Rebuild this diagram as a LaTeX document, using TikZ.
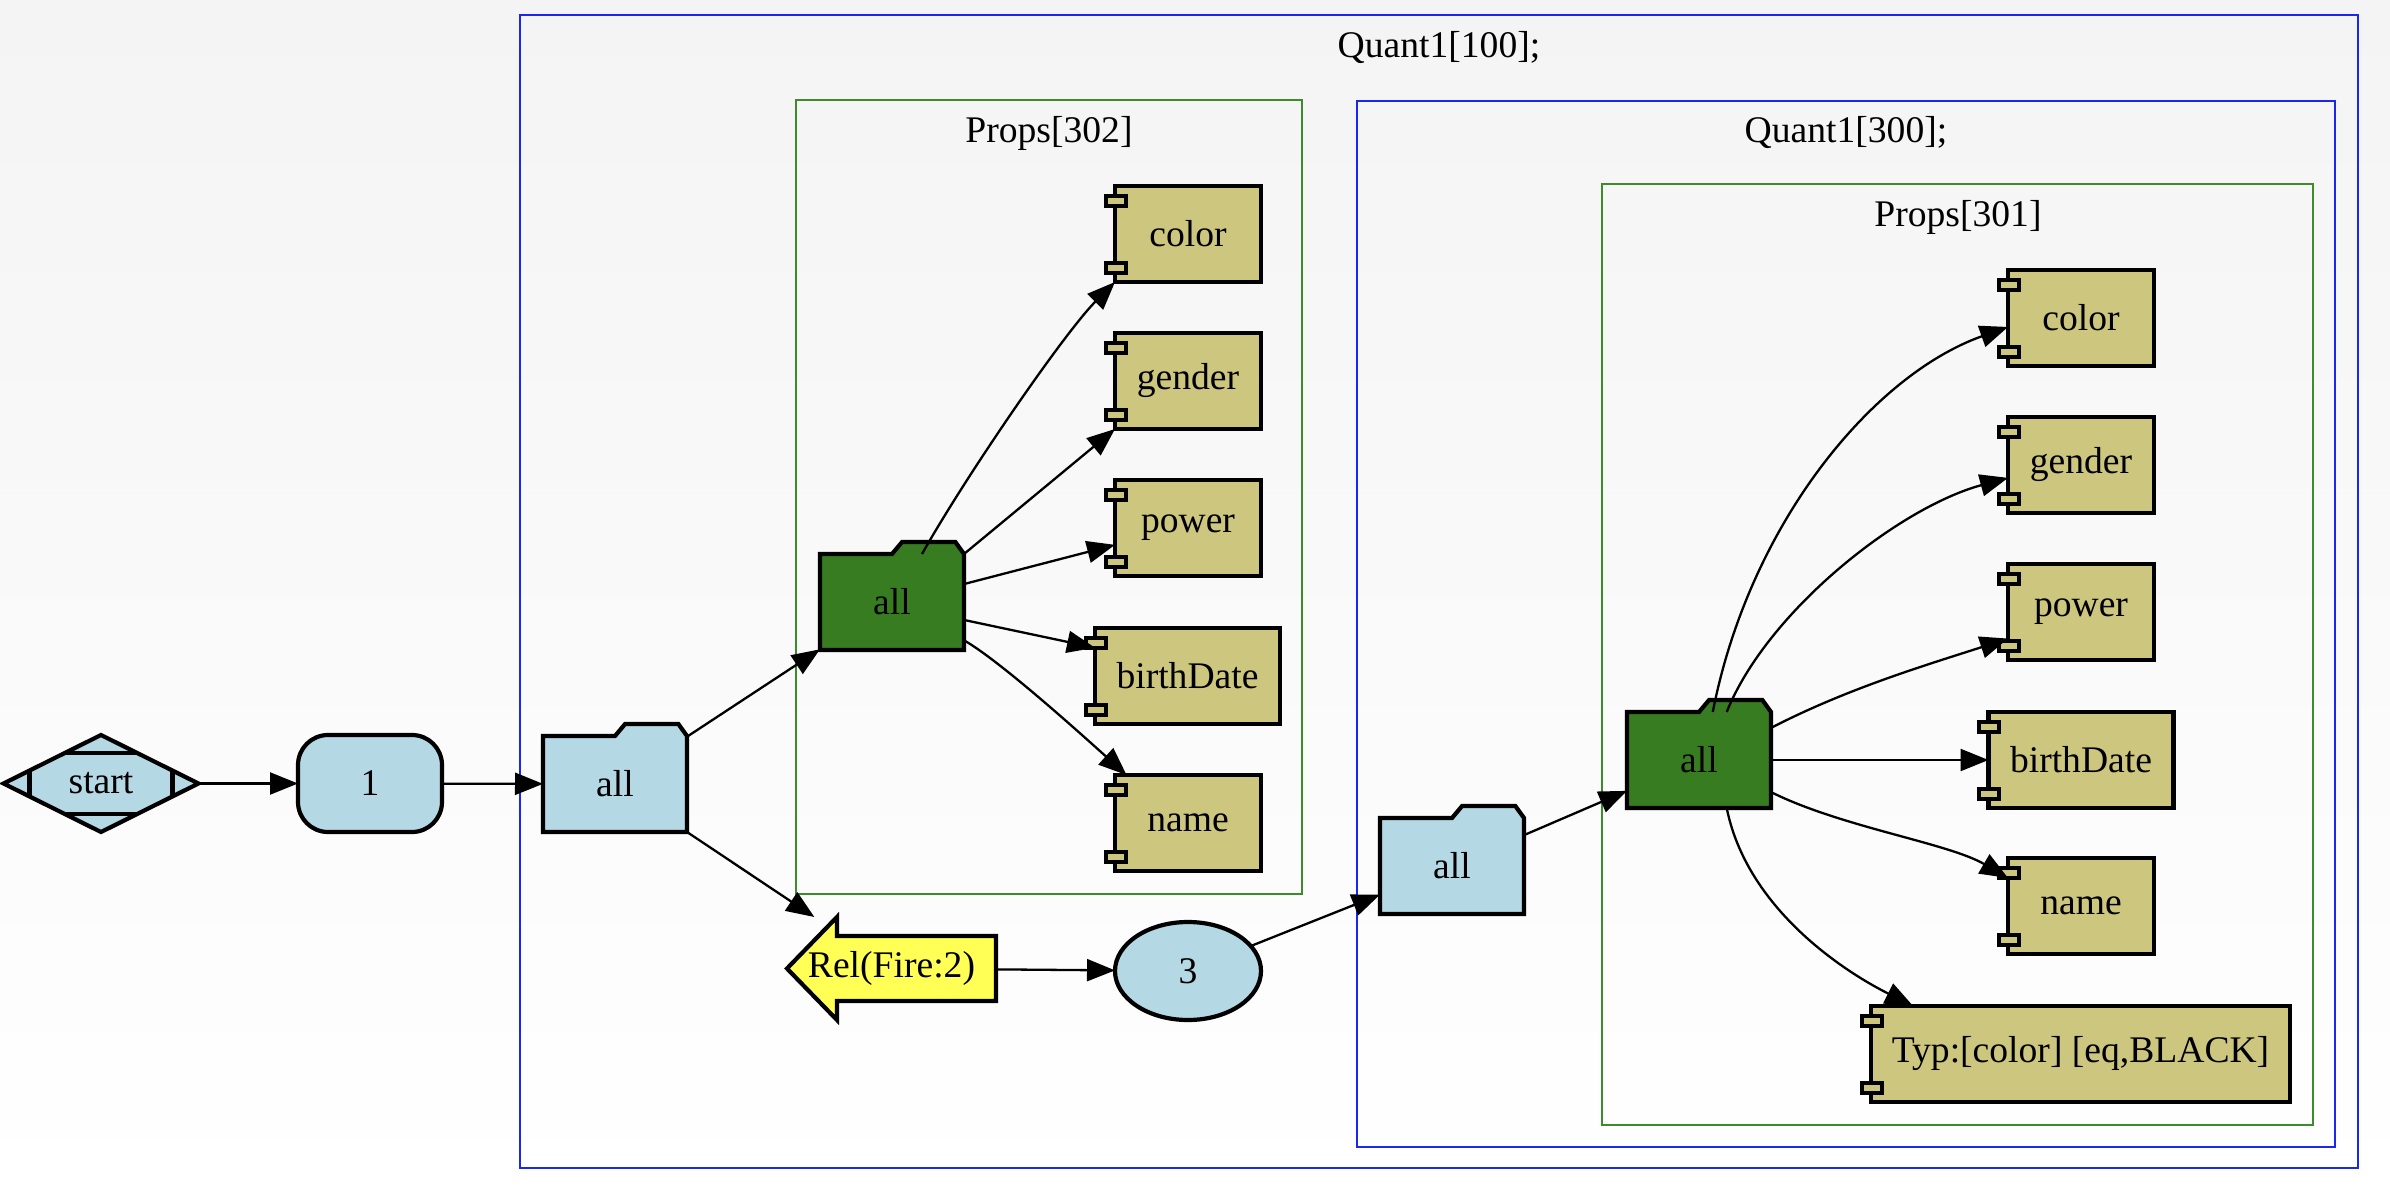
\documentclass[tikz,border=0pt]{standalone}
\usepackage{fontspec}
\setmainfont{Liberation Serif}
\usetikzlibrary{arrows.meta,shapes.geometric,calc}
\definecolor{nodeblue}{RGB}{180,216,228}
\definecolor{nodegreen}{RGB}{56,124,34}
\definecolor{khaki}{RGB}{205,198,126}
\definecolor{relyellow}{RGB}{255,255,85}
\definecolor{clblue}{RGB}{25,40,240}
\definecolor{clgreen}{RGB}{60,140,44}
\definecolor{bgtop}{RGB}{244,244,244}
\pgfdeclarelayer{bg}
\pgfdeclarelayer{shapes}
\pgfsetlayers{bg,shapes,main}
\tikzset{
  nodebase/.style={font=\fontsize{18.8}{22}\selectfont, inner sep=0pt, outer sep=0pt, line width=2.1pt, text=black},
  folderbox/.style={nodebase, minimum width=72pt, minimum height=48pt},
  compbox/.style={nodebase, draw, fill=khaki, minimum width=73pt, minimum height=48pt},
  tabbox/.style={draw=black, fill=khaki, line width=2pt},
  shapeline/.style={draw=black, line width=2.1pt, line join=miter},
  conn/.style={line width=1.15pt, -{Triangle[length=14pt,width=11pt]}},
  clusterline/.style={line width=1pt},
  cltitle/.style={font=\fontsize{18.8}{22}\selectfont, anchor=base, inner sep=0pt},
}
\newcommand\drawfolder[2]{%
  \begin{pgfonlayer}{shapes}
  \draw[shapeline, fill=#2] let \p1=(#1.south west), \p2=(#1.north east), \n1={\x2-\x1} in
    (\x1,\y1) -- (\x1,\y2) -- (\x1+0.5*\n1,\y2) -- (\x1+0.57*\n1,\y2+6pt)
    -- (\x1+0.94*\n1,\y2+6pt) -- (\x2,\y2) -- (\x2,\y1) -- cycle;
  \end{pgfonlayer}}
\newcommand\comptabs[1]{%
  \draw[tabbox] ([xshift=-4.75pt,yshift=-4.75pt]#1.north west) rectangle ++(10pt,-5pt);
  \draw[tabbox] ([xshift=-4.75pt,yshift=4.75pt]#1.south west) rectangle ++(10pt,5pt);}
\begin{document}
\begin{tikzpicture}[x=0.5pt,y=-0.5pt]
\useasboundingbox (0,0) rectangle (2390,1194);
\begin{pgfonlayer}{bg}
  \shade[top color=bgtop, bottom color=white] (0,0) rectangle (2390,1194);
  \draw[clusterline, draw=clblue] (520,15) rectangle (2358,1168);
  \draw[clusterline, draw=clgreen] (796,100) rectangle (1302,894);
  \draw[clusterline, draw=clblue] (1357,101) rectangle (2335,1147);
  \draw[clusterline, draw=clgreen] (1602,184) rectangle (2313,1125);
\end{pgfonlayer}
% cluster titles
\node[cltitle] (q100) at (1439,57) {Quant1[100];};
\node[cltitle] (p302) at (1049,142) {Props[302]};
\node[cltitle] (q300) at (1846,142) {Quant1[300];};
\node[cltitle] (p301) at (1958,226) {Props[301]};
% nodes
\node[nodebase, diamond, draw, fill=nodeblue, minimum width=97.5pt, minimum height=48.5pt] (start) at (101,783.5) {start};
\node[nodebase, draw, fill=nodeblue, rounded corners=15pt, minimum width=72pt, minimum height=48.5pt] (one) at (370,783.5) {1};
\node[folderbox] (all1) at (615,784) {all};
\node[folderbox] (g302) at (892,602) {all};
\node[compbox] (c302) at (1188,234) {color};
\node[compbox] (ge302) at (1188,381) {gender};
\node[compbox] (pw302) at (1188,528) {power};
\node[compbox, minimum width=92.5pt] (b302) at (1187.5,676) {birthDate};
\node[compbox] (n302) at (1188,823) {name};
\node[nodebase, minimum width=104.5pt, minimum height=51.5pt] (rel) at (891.5,968.5) {Rel(Fire:2)};
\node[nodebase, ellipse, draw, fill=nodeblue, minimum width=73pt, minimum height=49pt] (three) at (1188,971) {3};
\node[folderbox] (all3) at (1452,866) {all};
\node[folderbox] (g301) at (1699,760) {all};
\node[compbox] (c301) at (2081,318) {color};
\node[compbox] (ge301) at (2081,465) {gender};
\node[compbox] (pw301) at (2081,612) {power};
\node[compbox, minimum width=92.5pt] (b301) at (2081,760) {birthDate};
\node[compbox] (n301) at (2081,906) {name};
\node[compbox, minimum width=209.5pt] (t301) at (2080.5,1054) {Typ:[color] [eq,BLACK]};
% custom shapes
\drawfolder{all1}{nodeblue}
\drawfolder{g302}{nodegreen}
\drawfolder{all3}{nodeblue}
\drawfolder{g301}{nodegreen}
\begin{pgfonlayer}{shapes}
  \draw[shapeline, fill=relyellow] (787,968.5) -- (837,917) -- (837,936) -- (996,936)
    -- (996,1001) -- (837,1001) -- (837,1020) -- cycle;
\end{pgfonlayer}
\draw[shapeline] ([xshift=-18.1pt,yshift=-9pt]start.north) -- ([xshift=18.1pt,yshift=-9pt]start.north);
\draw[shapeline] ([xshift=-18.1pt,yshift=9pt]start.south) -- ([xshift=18.1pt,yshift=9pt]start.south);
\draw[shapeline] ([xshift=13pt,yshift=-6.47pt]start.west) -- ([xshift=13pt,yshift=6.47pt]start.west);
\draw[shapeline] ([xshift=-13pt,yshift=-6.47pt]start.east) -- ([xshift=-13pt,yshift=6.47pt]start.east);
\foreach \c in {c302,ge302,pw302,b302,n302,c301,ge301,pw301,b301,n301,t301} {\comptabs{\c}}
% connectors
\draw[conn] (start) -- (one);
\draw[conn] (one) -- (all1);
\draw[conn] (all1) -- (g302);
\draw[conn] (all1) -- (rel);
\draw[conn] (rel) -- (three);
\draw[conn] (three) -- (all3);
\draw[conn] (all3) -- (g301);
\draw[conn] (g302.58) .. controls +(45,-80) and +(-50,50) .. (c302.south west);
\draw[conn] (g302.north east) -- (ge302.south west);
\draw[conn] (g302.14) -- (pw302.193);
\draw[conn] (g302.-14) -- (b302.163);
\draw[conn] (g302.-28) .. controls +(35,20) and +(-50,-45) .. (n302.142);
\draw[conn] (g301.74) .. controls +(37,-189) and +(-135,48) .. (c301.187);
\draw[conn] (g301.60) .. controls +(40,-100) and +(-110,30) .. (ge301.190);
\draw[conn] (g301.24) .. controls +(77,-40) and +(-77,25) .. (pw301.200);
\draw[conn] (g301.east) -- (b301.west);
\draw[conn] (g301.-24) .. controls +(70,35) and +(-60,-35) .. (n301.159);
\draw[conn] (g301.-60) .. controls +(20,100) and +(-70,-35) .. (t301.164);
\end{tikzpicture}
\end{document}
